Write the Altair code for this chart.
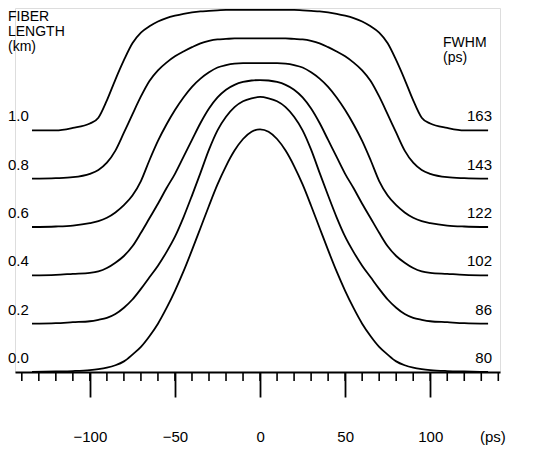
import altair as alt
import pandas as pd

# time axis samples (ps)
t_ps = [-134, -120, -110, -100, -95, -90, -85, -80, -75, -70, -65, -60, -55, -50,
        -45, -40, -35, -30, -25, -20, -15, -10, -5, 0,
        5, 10, 15, 20, 25, 30, 35, 40, 45, 50, 55, 60, 65, 70, 75, 80, 85, 90, 95,
        100, 110, 120, 134]

fiber_lengths = ["0.0", "0.2", "0.4", "0.6", "0.8", "1.0"]
fwhm_ps = ["80", "86", "102", "122", "143", "163"]
offsets = [0, 1, 2, 3, 4, 5]

pulse_00 = [0, 0.01, 0.02, 0.04, 0.06, 0.09, 0.14, 0.22, 0.36, 0.52, 0.74, 1.0, 1.32, 1.68,
            2.08, 2.52, 2.98, 3.44, 3.88, 4.26, 4.58, 4.82, 4.97, 5.02,
            4.97, 4.82, 4.58, 4.26, 3.88, 3.44, 2.98, 2.52, 2.08, 1.68, 1.32, 1.0, 0.74,
            0.52, 0.36, 0.22, 0.14, 0.09, 0.06, 0.04, 0.02, 0.01, 0]
pulse_02 = [0, 0.01, 0.03, 0.05, 0.08, 0.12, 0.2, 0.33, 0.5, 0.72, 0.96, 1.2, 1.48, 1.8,
            2.2, 2.65, 3.12, 3.6, 4.0, 4.28, 4.48, 4.6, 4.66, 4.69,
            4.66, 4.6, 4.48, 4.28, 4.0, 3.6, 3.12, 2.65, 2.2, 1.8, 1.48, 1.2, 0.96,
            0.72, 0.5, 0.33, 0.2, 0.12, 0.08, 0.05, 0.03, 0.01, 0]
pulse_04 = [0, 0.01, 0.03, 0.05, 0.08, 0.15, 0.26, 0.4, 0.6, 0.88, 1.18, 1.48, 1.8, 2.1,
            2.45, 2.8, 3.15, 3.45, 3.68, 3.84, 3.94, 4.0, 4.03, 4.04,
            4.03, 4.0, 3.94, 3.84, 3.68, 3.45, 3.15, 2.8, 2.45, 2.1, 1.8, 1.48, 1.18,
            0.88, 0.6, 0.4, 0.26, 0.15, 0.08, 0.05, 0.03, 0.01, 0]
pulse_06 = [0, 0.01, 0.03, 0.08, 0.12, 0.19, 0.3, 0.45, 0.65, 0.95, 1.38, 1.78, 2.12, 2.42,
            2.68, 2.9, 3.07, 3.2, 3.3, 3.35, 3.38, 3.39, 3.39, 3.39,
            3.39, 3.39, 3.38, 3.35, 3.3, 3.2, 3.07, 2.9, 2.68, 2.42, 2.12, 1.78, 1.38,
            0.95, 0.65, 0.45, 0.3, 0.19, 0.12, 0.08, 0.03, 0.01, 0]
pulse_08 = [0, 0.01, 0.03, 0.1, 0.18, 0.33, 0.58, 0.95, 1.33, 1.7, 2.02, 2.24, 2.4, 2.53,
            2.63, 2.72, 2.8, 2.85, 2.88, 2.89, 2.9, 2.9, 2.9, 2.9,
            2.9, 2.9, 2.9, 2.89, 2.88, 2.85, 2.8, 2.72, 2.63, 2.53, 2.4, 2.24, 2.02,
            1.7, 1.33, 0.95, 0.58, 0.33, 0.18, 0.1, 0.03, 0.01, 0]
pulse_10 = [0, 0.0, 0.05, 0.14, 0.26, 0.62, 1.05, 1.45, 1.8, 2.02, 2.15, 2.25, 2.32, 2.37,
            2.41, 2.44, 2.46, 2.47, 2.48, 2.49, 2.49, 2.49, 2.49, 2.49,
            2.49, 2.49, 2.49, 2.49, 2.48, 2.47, 2.46, 2.44, 2.41, 2.37, 2.32, 2.25, 2.15,
            2.02, 1.8, 1.45, 1.05, 0.62, 0.26, 0.14, 0.05, 0.0, 0]

minor_ticks = list(range(-140, 141, 10))
major_ticks = [-100, -50, 0, 50, 100]

pulses = [pulse_00, pulse_02, pulse_04, pulse_06, pulse_08, pulse_10]
rows = []
for name, off, vals in zip(fiber_lengths, offsets, pulses):
    for t, v in zip(t_ps, vals):
        rows.append({"t": t, "level": off + v, "length": name})
df = pd.DataFrame(rows)

lab_df = pd.DataFrame({"length": fiber_lengths, "fwhm": fwhm_ps, "offset": offsets})
minor_df = pd.DataFrame({"t": minor_ticks})

FONT = "Liberation Sans"
W, H = 485, 364
FS = 15
HFS = 14

xscale = alt.Scale(domain=[-144, 141], nice=False, zero=False)
yscale = alt.Scale(domain=[0, 7.53], nice=False, zero=False)

lines = alt.Chart(df).mark_line(
    color="black", strokeWidth=1.8, interpolate="monotone"
).encode(
    x=alt.X("t:Q", scale=xscale, axis=alt.Axis(
        values=major_ticks, tickSize=25, tickWidth=1.8, tickColor="black",
        domainColor="black", domainWidth=2, grid=False, title=None,
        labelExpr="datum.value < 0 ? '\u2212' + abs(datum.value) : '' + datum.value",
        labelOverlap=False, labelPadding=32, labelFontSize=FS, labelFont=FONT,
        labelColor="black", labelFontWeight="normal")),
    y=alt.Y("level:Q", scale=yscale, axis=None),
    detail="length:N",
)

minors = alt.Chart(minor_df).mark_rule(color="black", strokeWidth=1.6).encode(
    x=alt.X("t:Q", scale=xscale),
    y=alt.value(H),
    y2=alt.value(H + 9),
)

left_labels = alt.Chart(lab_df).mark_text(
    align="left", baseline="alphabetic", dy=-9, fontSize=FS, font=FONT, color="black"
).encode(x=alt.value(-7), y=alt.Y("offset:Q", scale=yscale), text="length:N")

right_labels = alt.Chart(lab_df).mark_text(
    align="right", baseline="alphabetic", dy=-9, fontSize=FS, font=FONT, color="black"
).encode(x=alt.value(477), y=alt.Y("offset:Q", scale=yscale), text="fwhm:N")

one = pd.DataFrame({"a": [0]})
left_head = alt.Chart(one).mark_text(
    align="left", baseline="alphabetic", fontSize=HFS, font=FONT, color="black",
    lineHeight=15, lineBreak="\n"
).encode(x=alt.value(-7), y=alt.value(13), text=alt.value("FIBER\nLENGTH\n(km)"))

right_head = alt.Chart(one).mark_text(
    align="left", baseline="alphabetic", fontSize=HFS, font=FONT, color="black",
    lineHeight=15, lineBreak="\n"
).encode(x=alt.value(428), y=alt.value(39), text=alt.value("FWHM\n(ps)"))

unit_lab = alt.Chart(one).mark_text(
    align="left", baseline="middle", fontSize=FS, font=FONT, color="black"
).encode(x=alt.value(465), y=alt.value(429), text=alt.value("(ps)"))

chart = alt.layer(lines, minors, left_labels, right_labels, left_head, right_head, unit_lab).properties(
    width=W, height=H,
    autosize=alt.AutoSizeParams(type="none"),
    padding={"left": 7, "top": 0, "right": 35, "bottom": 74},
).configure_view(stroke=None).configure(background="white")

chart.save("out.html", embed_options={"renderer": "svg", "actions": False})
